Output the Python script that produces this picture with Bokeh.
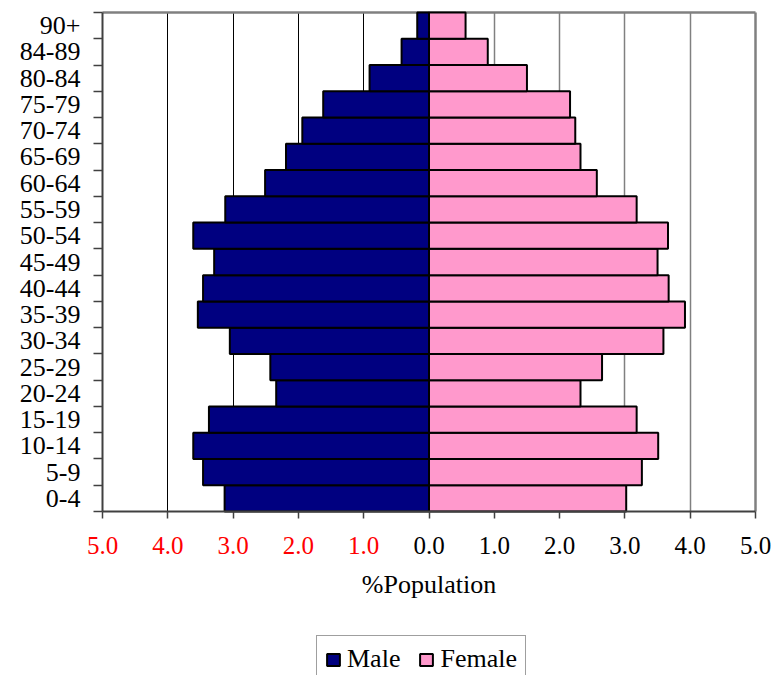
from bokeh.plotting import figure
from bokeh.models import (Range1d, FixedTicker, Grid, Legend, LegendItem,
                          ColumnDataSource, LinearAxis)
from bokeh.embed import file_html
from bokeh.resources import INLINE

# ---- data (bottom to top) ----
age_groups = ["0-4", "5-9", "10-14", "15-19", "20-24", "25-29", "30-34", "35-39",
              "40-44", "45-49", "50-54", "55-59", "60-64", "65-69", "70-74",
              "75-79", "80-84", "84-89", "90+"]
male = [3.13, 3.46, 3.61, 3.37, 2.34, 2.43, 3.05, 3.54, 3.46, 3.29, 3.61, 3.12,
        2.51, 2.19, 1.94, 1.62, 0.91, 0.42, 0.18]
female = [3.02, 3.26, 3.51, 3.18, 2.32, 2.65, 3.59, 3.92, 3.67, 3.50, 3.66, 3.18,
          2.57, 2.32, 2.24, 2.16, 1.50, 0.90, 0.56]
x_ticks = [-5, -4, -3, -2, -1, 0, 1, 2, 3, 4, 5]

FONT = "Liberation Serif"
n = len(age_groups)
ypos = [i + 1 for i in range(n)]
y_lo, y_hi = 0.5, n + 0.5          # extent of the bar area
x_lo, x_hi = x_ticks[0], x_ticks[-1]

# layout: canvas size and where the bar area sits inside it (pixels)
W, H = 774, 675
PL, PR, PT, PB = 102, 755, 12, 511
sx = (PR - PL) / (x_hi - x_lo)
sy = (PB - PT) / (y_hi - y_lo)
x_range = Range1d(x_lo - PL / sx, x_hi + (W - PR) / sx)
y_range = Range1d(y_lo - (H - PB) / sy, y_hi + PT / sy)

src = ColumnDataSource(dict(
    y=ypos,
    mleft=[-m for m in male],
    female=female,
))

p = figure(width=W, height=H, x_range=x_range, y_range=y_range,
           output_backend="svg", toolbar_location=None,
           x_axis_location=None, y_axis_location=None,
           min_border_left=0, min_border_right=0,
           min_border_top=0, min_border_bottom=0)
p.grid.visible = False
p.outline_line_color = None
p.background_fill_color = "white"
p.border_fill_color = "white"


def add_grid(dim, ticks, cross, color, width):
    try:
        g = Grid(dimension=dim, ticker=FixedTicker(ticks=ticks), cross_bounds=cross,
                 grid_line_color=color, grid_line_width=width)
        p.add_layout(g)
    except AttributeError:
        if dim == 0:
            p.segment(x0=ticks, x1=ticks, y0=[cross[0]] * len(ticks), y1=[cross[1]] * len(ticks),
                      line_color=color, line_width=width, level="underlay")
        else:
            p.segment(y0=ticks, y1=ticks, x0=[cross[0]] * len(ticks), x1=[cross[1]] * len(ticks),
                      line_color=color, line_width=width, level="underlay")


# vertical gridlines: black on the left, gray on the right
add_grid(0, [t for t in x_ticks if x_lo < t < 0], (y_lo, y_hi), "black", 1)
add_grid(0, [t for t in x_ticks if 0 < t < x_hi], (y_lo, y_hi), "#808080", 1.5)
# plot-area border (right and top), gray
add_grid(0, [x_hi], (y_lo, y_hi), "#808080", 2.5)
add_grid(1, [y_hi], (x_lo, x_hi), "#808080", 2.5)

male_r = p.hbar(y="y", left="mleft", right=0, height=1.0, source=src,
                fill_color="#000080", line_color="black", line_width=2)
female_r = p.hbar(y="y", left=0, right="female", height=1.0, source=src,
                  fill_color="#FF99CC", line_color="black", line_width=2)


def style_x(ax, color):
    ax.major_tick_in = 0
    ax.major_tick_out = 7
    ax.minor_tick_line_color = None
    ax.major_label_standoff = 18
    ax.major_label_text_font = FONT
    ax.major_label_text_font_size = "25px"
    ax.major_label_text_color = color


# main x axis at the bottom of the bar area: black labels for values >= 0
xaxis = LinearAxis(
    ticker=FixedTicker(ticks=x_ticks),
    major_label_overrides={t: ("" if t < 0 else f"{abs(t):.1f}") for t in x_ticks},
    axis_label="%Population",
    fixed_location=y_lo, bounds=(x_lo, x_hi),
)
style_x(xaxis, "black")
xaxis.axis_line_color = "#404040"
xaxis.axis_line_width = 2
xaxis.major_tick_line_color = "#404040"
xaxis.major_tick_line_width = 1.5
xaxis.axis_label_text_font = FONT
xaxis.axis_label_text_font_size = "26px"
xaxis.axis_label_text_font_style = "normal"
xaxis.axis_label_text_color = "black"
xaxis.axis_label_standoff = 13
p.add_layout(xaxis, "below")

# second axis at the same place: red labels for the male side
neg = [t for t in x_ticks if t < 0]
xaxis_red = LinearAxis(
    ticker=FixedTicker(ticks=neg),
    major_label_overrides={t: f"{abs(t):.1f}" for t in neg},
    fixed_location=y_lo, bounds=(x_lo, x_hi),
)
style_x(xaxis_red, "red")
xaxis_red.axis_line_color = None
xaxis_red.major_tick_line_color = None
p.add_layout(xaxis_red, "below")

# y axis: labels at category centers, ticks at boundaries
yaxis = LinearAxis(
    ticker=FixedTicker(ticks=ypos, minor_ticks=[i + 0.5 for i in range(n + 1)]),
    major_label_overrides={y: lab for y, lab in zip(ypos, age_groups)},
    fixed_location=x_lo, bounds=(y_lo, y_hi),
)
yaxis.axis_line_color = "#404040"
yaxis.axis_line_width = 2
yaxis.major_tick_line_color = None
yaxis.major_tick_in = 0
yaxis.major_tick_out = 0
yaxis.minor_tick_line_color = "#404040"
yaxis.minor_tick_line_width = 1.5
yaxis.minor_tick_in = 0
yaxis.minor_tick_out = 9
yaxis.major_label_standoff = 13
yaxis.major_label_text_font = FONT
yaxis.major_label_text_font_size = "26px"
yaxis.major_label_text_color = "black"
p.add_layout(yaxis, "left")

legend = Legend(
    items=[LegendItem(label="Male", renderers=[male_r]),
           LegendItem(label="Female", renderers=[female_r])],
    orientation="horizontal", location=(316, -8),
    border_line_color="#404040", border_line_width=1,
    background_fill_color="white", background_fill_alpha=1,
    glyph_width=16, glyph_height=15, label_standoff=6, spacing=18,
    padding=8, margin=0,
)
legend.label_text_font = FONT
legend.label_text_font_size = "26px"
legend.label_text_font_style = "normal"
legend.label_text_color = "black"
p.add_layout(legend)

open("out.html", "w").write(file_html(p, INLINE))
